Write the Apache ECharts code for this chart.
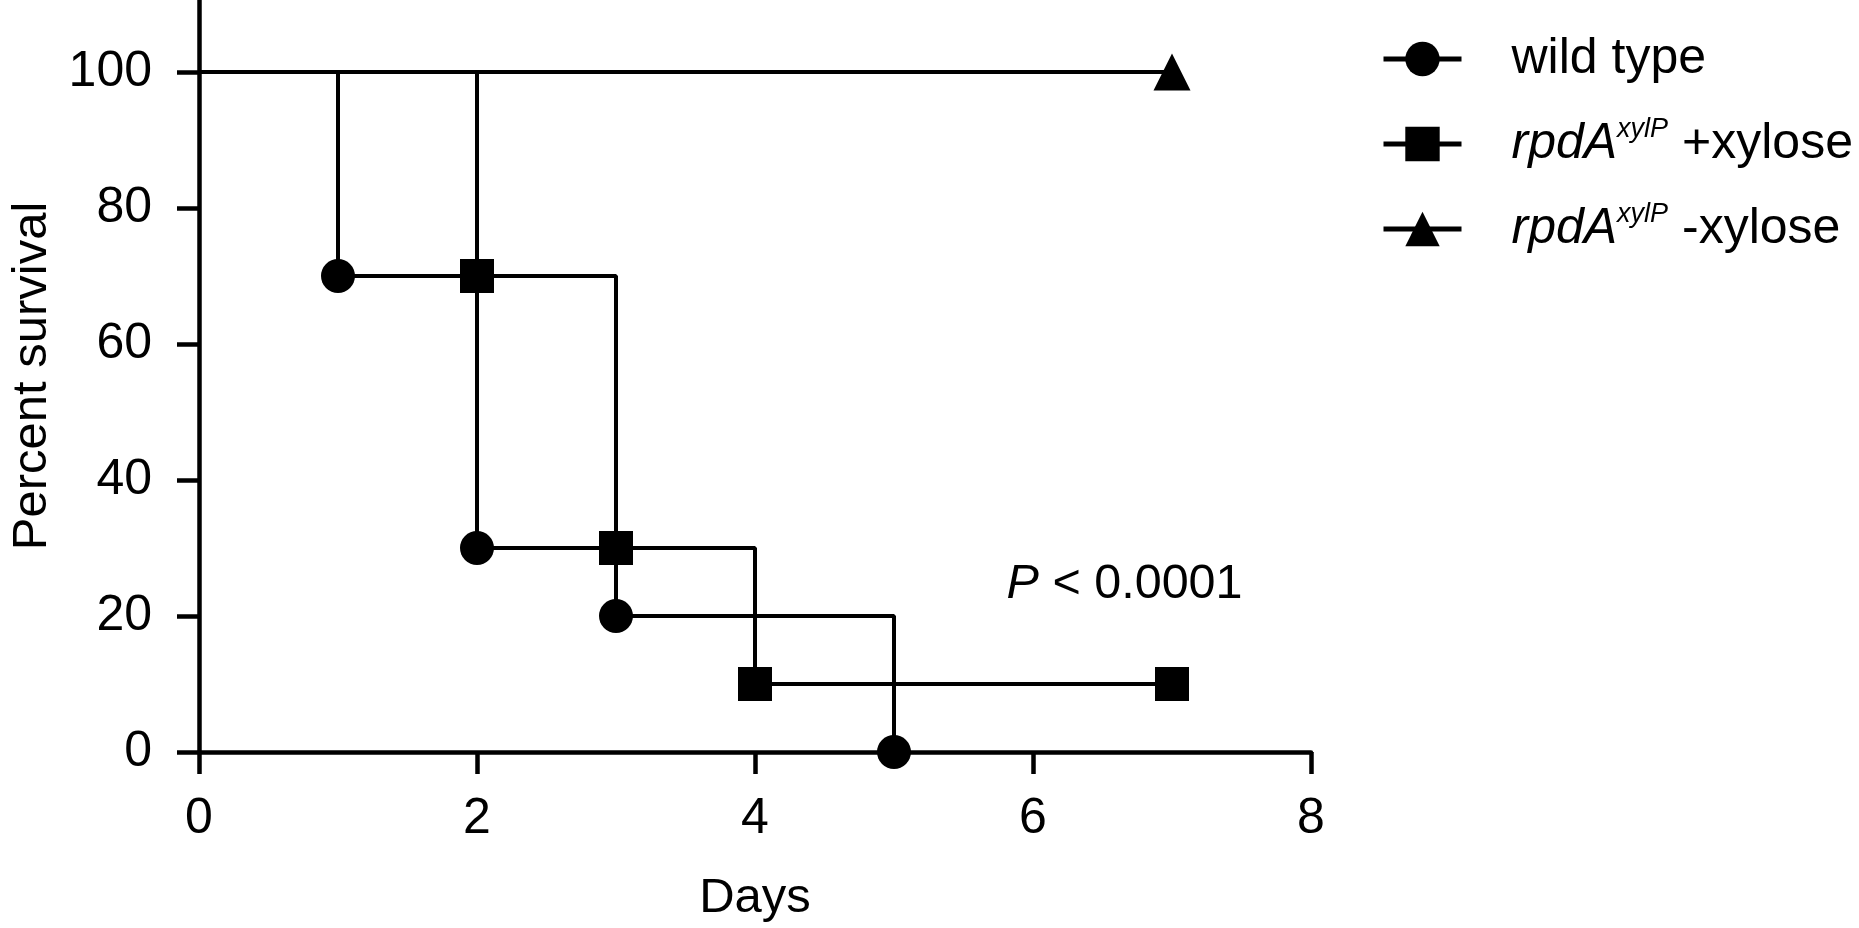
<!DOCTYPE html>
<html>
<head>
<meta charset="utf-8">
<script src="https://cdn.jsdelivr.net/npm/echarts@6/dist/echarts.min.js"></script>
<style>
html,body{margin:0;padding:0;background:#fff;}
#chart{width:1859px;height:928px;}
</style>
</head>
<body>
<div id="chart"></div>
<script>
// ---- data ----
const seriesNames = ['wild type', 'rpdA xylP +xylose', 'rpdA xylP -xylose'];
const wildTypeDays = [0, 1, 2, 3, 5];
const wildTypeSurvival = [100, 70, 30, 20, 0];
const plusXyloseDays = [0, 2, 3, 4, 7];
const plusXyloseSurvival = [100, 70, 30, 10, 10];
const minusXyloseDays = [0, 7];
const minusXyloseSurvival = [100, 100];
const xTicks = [0, 2, 4, 6, 8];
const yTicks = [0, 20, 40, 60, 80, 100];
const pValueText = 'P < 0.0001';
const pValueAt = [5.81, 24.6];

const FONT = '"Liberation Sans", Arial, Helvetica, sans-serif';

function stepData(days, vals) {
  return days.map((d, i) => (i === 0 ? { value: [d, vals[i]], symbol: 'none' } : [d, vals[i]]));
}

const legendRich = {
  n: { fontSize: 50, fontFamily: FONT, color: '#000', lineHeight: 56 },
  i: { fontSize: 50, fontFamily: FONT, color: '#000', fontStyle: 'italic', lineHeight: 56 },
  s: { fontSize: 27, fontFamily: FONT, color: '#000', fontStyle: 'italic', lineHeight: 34, verticalAlign: 'top' }
};

function legendFormatter(name) {
  if (name === seriesNames[0]) return '{n|wild type}';
  const parts = name.split(' ');
  return '{i|' + parts[0] + '}{s|' + parts[1] + '}{n| ' + parts[2] + '}';
}

const lineStyle = { color: '#000', width: 4 };
const itemStyle = { color: '#000' };

const chart = echarts.init(document.getElementById('chart'), null, { renderer: 'canvas' });
chart.setOption({
  animation: false,
  backgroundColor: '#fff',
  grid: { left: 191, right: 548, top: 0, bottom: 176 },
  legend: {
    orient: 'vertical',
    left: 1376,
    top: 29,
    itemWidth: 78,
    itemHeight: 43,
    itemGap: 32,
    formatter: legendFormatter,
    lineStyle: { color: '#000', width: 5 },
    itemStyle: { color: '#000' },
    textStyle: { padding: [0, 0, 0, 45], rich: legendRich, fontSize: 50, fontFamily: FONT },
    data: seriesNames
  },
  xAxis: {
    type: 'value',
    min: 0, max: 8, interval: 2,
    name: 'Days',
    nameLocation: 'middle',
    nameGap: 122,
    nameTextStyle: { fontSize: 49, fontFamily: FONT, color: '#000' },
    axisLine: { lineStyle: { color: '#000', width: 4.5 } },
    axisTick: { length: 22, lineStyle: { color: '#000', width: 4.5 }, customValues: xTicks },
    axisLabel: { margin: 42, fontSize: 50, fontFamily: FONT, color: '#000', customValues: xTicks },
    splitLine: { show: false }
  },
  yAxis: {
    type: 'value',
    min: 0, max: 110.6,
    name: 'Percent survival',
    nameLocation: 'middle',
    nameGap: 142,
    nameTextStyle: { fontSize: 49, fontFamily: FONT, color: '#000' },
    axisLine: { lineStyle: { color: '#000', width: 4.5 } },
    axisTick: { length: 22, lineStyle: { color: '#000', width: 4.5 }, customValues: yTicks },
    axisLabel: { margin: 47, fontSize: 50, fontFamily: FONT, color: '#000', customValues: yTicks },
    splitLine: { show: false }
  },
  series: [
    {
      name: seriesNames[0], type: 'line', step: 'end',
      symbol: 'circle', symbolSize: 34,
      lineStyle: lineStyle, itemStyle: itemStyle,
      data: stepData(wildTypeDays, wildTypeSurvival), z: 3
    },
    {
      name: seriesNames[1], type: 'line', step: 'end',
      symbol: 'rect', symbolSize: 34,
      lineStyle: lineStyle, itemStyle: itemStyle,
      data: stepData(plusXyloseDays, plusXyloseSurvival), z: 3
    },
    {
      name: seriesNames[2], type: 'line', step: 'end',
      symbol: 'triangle', symbolSize: 37,
      lineStyle: lineStyle, itemStyle: itemStyle,
      data: stepData(minusXyloseDays, minusXyloseSurvival), z: 3,
      markPoint: {
        silent: true,
        symbol: 'circle', symbolSize: 0,
        label: {
          show: true, position: 'right', distance: 0,
          formatter: function () {
            const t = pValueText.split(' ');
            return '{p|' + t[0] + '}{n| ' + t.slice(1).join(' ') + '}';
          },
          rich: {
            p: { fontSize: 48.5, fontFamily: FONT, color: '#000', fontStyle: 'italic' },
            n: { fontSize: 48.5, fontFamily: FONT, color: '#000' }
          }
        },
        data: [{ coord: pValueAt }]
      }
    }
  ]
});
</script>
</body>
</html>
